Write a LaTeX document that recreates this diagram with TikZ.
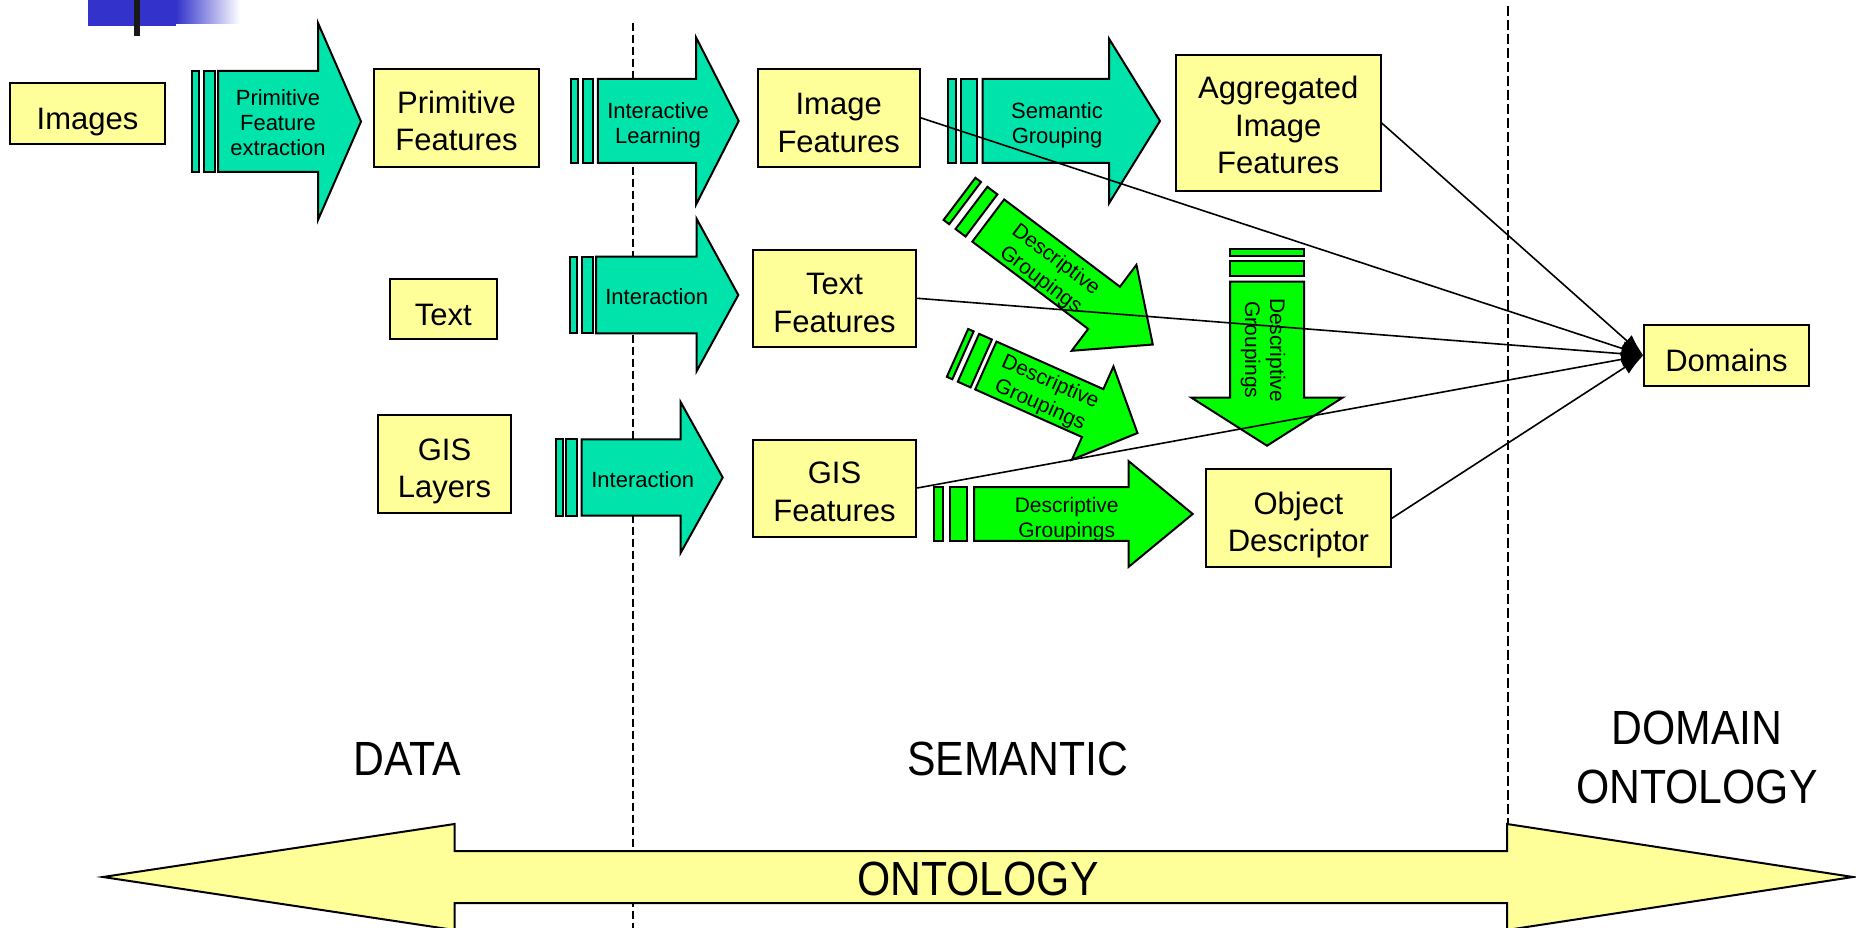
\documentclass[tikz,border=0pt]{standalone}
\usepackage{fontspec}
\setmainfont{Liberation Sans}
\newfontfamily\capfont{Liberation Sans}[FakeStretch=0.89]
\usetikzlibrary{arrows.meta}

\definecolor{boxyellow}{HTML}{FFFF99}
\definecolor{tealfill}{RGB}{0,227,170}
\definecolor{greenfill}{HTML}{00FF00}
\definecolor{slideblue}{RGB}{51,51,204}

% invisible strut that sets the height of a box's first line
\newcommand{\firstline}[1]{\rule{0pt}{#1pt}}

% Block arrow with two thin stripes behind it, drawn from the origin along +x.
% #1 style; #2 first stripe; #3 gap; #4 second stripe; #5 gap;
% #6 shaft length; #7 head length; #8 shaft half width; #9 head half width
\newcommand{\stripedarrow}[9]{%
  \pgfmathsetmacro{\saA}{#2}%
  \pgfmathsetmacro{\saB}{#2+#3}%
  \pgfmathsetmacro{\saC}{#2+#3+#4}%
  \pgfmathsetmacro{\saD}{#2+#3+#4+#5}%
  \pgfmathsetmacro{\saE}{\saD+#6}%
  \pgfmathsetmacro{\saF}{\saE+#7}%
  \draw[#1] (0,-#8) rectangle (\saA,#8);
  \draw[#1] (\saB,-#8) rectangle (\saC,#8);
  \draw[#1] (\saD,-#8) -- (\saE,-#8) -- (\saE,-#9) -- (\saF,0)
            -- (\saE,#9) -- (\saE,#8) -- (\saD,#8) -- cycle;
}

\begin{document}
\begin{tikzpicture}[x=1pt,y=-1pt,
  box/.style={draw=black, line width=2pt, fill=boxyellow, align=center,
              inner sep=0pt, font=\fontsize{31}{37.5}\selectfont},
  single/.style={execute at begin node={\rule{0pt}{32pt}}},
  tealshape/.style={draw=black, line width=2pt, fill=tealfill},
  greenshape/.style={draw=black, line width=2pt, fill=greenfill},
  arrowtext/.style={align=center, inner sep=0pt, font=\fontsize{22}{25}\selectfont},
  grouptext/.style={align=center, inner sep=0pt, font=\fontsize{21}{25}\selectfont},
  zonetext/.style={align=center, inner sep=0pt, font=\capfont\fontsize{48}{58.4}\selectfont},
  link/.style={line width=1.6pt, -{Latex[length=22pt,width=15pt]}},
  divider/.style={line width=2pt, dash pattern=on 8pt off 4pt}
]
\useasboundingbox (0,0) rectangle (1856,928);

% slide ornament, top left
\fill[slideblue] (88,0) rectangle (176,26);
\shade[left color=slideblue, right color=white] (176,0) rectangle (240,24);
\fill[black!90] (134,0) rectangle (140,36);

% zone dividers
\draw[divider] (632.5,22.7) -- (632.5,928);
\draw[line width=2.5pt, dash pattern=on 10pt off 4pt] (1508,6) -- (1508,928);

% ontology double arrow
\draw[line width=2pt, fill=boxyellow]
  (103,877) -- (454.5,824) -- (454.5,851) -- (1507,851) -- (1507,824)
  -- (1853,877) -- (1507,930) -- (1507,903) -- (454.5,903) -- (454.5,930) -- cycle;
\node[zonetext] (onto) at (978,879) {ONTOLOGY};

% zone titles
\node[zonetext] (zdata) at (407.6,758.8) {DATA};
\node[zonetext] (zsem) at (1017.6,758.8) {SEMANTIC};
\node[zonetext] (zdom) at (1697,757.5) {DOMAIN\\ONTOLOGY};

% teal process arrows
\begin{scope}[shift={(192,121.5)}]
  \stripedarrow{tealshape}{7}{5}{11}{3}{100}{43}{50.5}{98.5}
\end{scope}
\node[arrowtext] (pfe) at (278,122.8) {Primitive\\Feature\\extraction};

\begin{scope}[shift={(570.5,121)}]
  \stripedarrow{tealshape}{7}{5}{10.6}{4.8}{98.2}{42.6}{42}{83.5}
\end{scope}
\node[arrowtext] (il) at (658,125) {Interactive\\Learning};

\begin{scope}[shift={(948,121)}]
  \stripedarrow{tealshape}{8.4}{4.6}{15.5}{6}{126.5}{51}{42}{82.3}
\end{scope}
\node[arrowtext] (sg) at (1057,125) {Semantic\\Grouping};

\begin{scope}[shift={(570,295)}]
  \stripedarrow{tealshape}{6.7}{5.6}{10.4}{3.3}{100.7}{41.6}{38.3}{76}
\end{scope}
\node[arrowtext] (int1) at (656.7,296.8) {Interaction};

\begin{scope}[shift={(556,477.5)}]
  \stripedarrow{tealshape}{6.7}{3.3}{10.7}{5}{99}{42}{38.2}{75.3}
\end{scope}
\node[arrowtext] (int2) at (642.7,479.2) {Interaction};

% green grouping arrows
\begin{scope}[shift={(959.5,198.9)}, rotate=-37]
  \stripedarrow{greenshape}{7}{8}{12.5}{8.5}{145}{61}{26.4}{53.8}
\end{scope}
\node[grouptext, rotate=-37] (dga) at (1048,270) {Descriptive\\Groupings};

\begin{scope}[shift={(957.5,352.9)}, rotate=-24]
  \stripedarrow{greenshape}{6}{6}{14}{5}{117}{49}{26.2}{51}
\end{scope}
\node[grouptext, rotate=-24] (dgb) at (1045,394) {Descriptive\\Groupings};

\begin{scope}[shift={(1267,249.3)}, rotate=-90]
  \stripedarrow{greenshape}{6.4}{5.3}{14.7}{6}{116}{48}{37}{75.5}
\end{scope}
\node[grouptext, rotate=-90] (dgv) at (1263,350) {Descriptive\\Groupings};

\begin{scope}[shift={(934.3,514)}]
  \stripedarrow{greenshape}{8.4}{7.3}{16.7}{7.3}{154.7}{64}{26.8}{52.8}
\end{scope}
\node[grouptext] (dgh) at (1066.7,519.5) {Descriptive\\Groupings};

% data and feature boxes
\node[box, single, minimum width=155, minimum height=61, text depth=0pt] (img) at (87.5,113.5) {Images};
\node[box, minimum width=165, minimum height=98] (primf) at (456.5,118) {\firstline{28}Primitive\\Features};
\node[box, minimum width=162, minimum height=98] (imgf) at (838.7,117.8) {\firstline{32}Image\\Features};
\node[box, minimum width=204.7, minimum height=136] (agg) at (1278.3,123) {\firstline{27}Aggregated\\Image\\Features};
\node[box, single, minimum width=106.7, minimum height=60.3] (txt) at (443.3,309.2) {Text};
\node[box, minimum width=163.4, minimum height=97] (txtf) at (834.5,298.3) {\firstline{31}Text\\Features};
\node[box, minimum width=132.4, minimum height=98.3] (gisl) at (444.5,464.2) {\firstline{36}GIS\\Layers};
\node[box, minimum width=163.4, minimum height=97] (gisf) at (834.5,488) {\firstline{29}GIS\\Features};
\node[box, minimum width=184.8, minimum height=98] (objd) at (1298.4,518.3) {\firstline{36}Object\\Descriptor};
\node[box, single, minimum width=164.4, minimum height=60.7] (dom) at (1726.5,355.4) {Domains};

% links into the domain node
\draw[link] (imgf.east) -- (dom.west);
\draw[link] (agg.east) -- (dom.west);
\draw[link] (txtf.east) -- (dom.west);
\draw[link] (gisf.east) -- (dom.west);
\draw[link] (objd.east) -- (dom.west);
\end{tikzpicture}
\end{document}
